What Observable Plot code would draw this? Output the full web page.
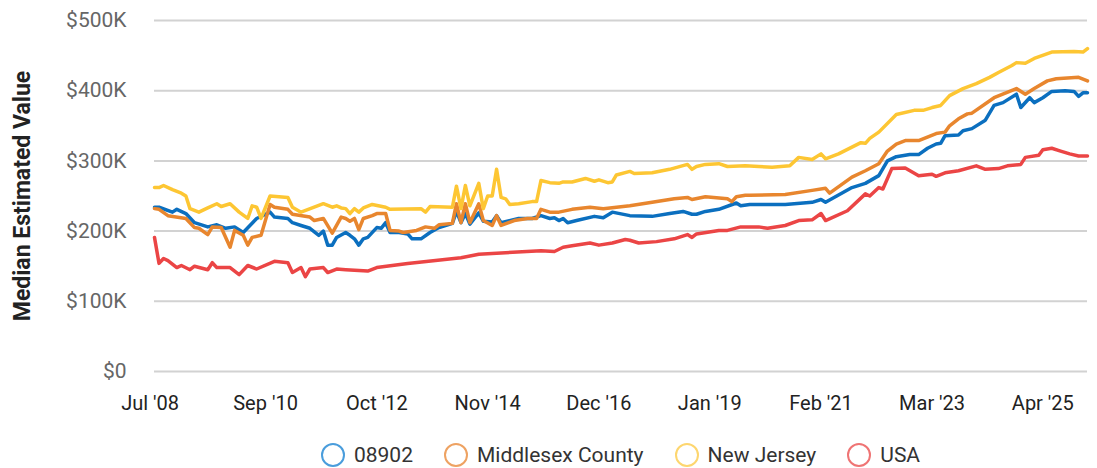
<!DOCTYPE html>
<html>
<head>
<meta charset="utf-8">
<script src="https://cdn.jsdelivr.net/npm/d3@7"></script>
<script src="https://cdn.jsdelivr.net/npm/@observablehq/plot@0.6"></script>
<style>
  html, body { margin: 0; padding: 0; background: #fff; }
  #wrap { position: relative; width: 1097px; height: 468px; font-family: Roboto, sans-serif; }
  #wrap svg { position: absolute; left: 0; top: 0; }
  g[aria-label="y-axis label"] { font-size: 23px; font-weight: bold; fill: #222; }
  g[aria-label="y-axis tick label"] { font-size: 21px; }
  .legend { position: absolute; left: 154px; width: 933px; top: 442px; height: 26px;
            display: flex; justify-content: center; align-items: center;
            font-size: 21px; color: #333; }
  .legend .item { display: flex; align-items: center; margin: 0 15.5px; }
  .legend .ring { width: 24px; height: 24px; border-radius: 50%; border: 2.5px solid; box-sizing: border-box; margin-right: 9px; }
</style>
</head>
<body>
<div id="wrap"></div>
<script>
// ---- data (values in $K) ----
const seriesNames = ["08902", "Middlesex County", "New Jersey", "USA"];
const seriesColors = ["#0b6fbf", "#e8862e", "#fdc633", "#eb4545"];
const legendColors = ["#4a9ddc", "#eea262", "#fdd66f", "#ef7474"];
const yTicks = [0, 100, 200, 300, 400, 500];
const xTickMonths = ["2008-07", "2010-09", "2012-10", "2014-11", "2016-12", "2019-01", "2021-02", "2023-03", "2025-04"];
const xTickLabels = ["Jul '08", "Sep '10", "Oct '12", "Nov '14", "Dec '16", "Jan '19", "Feb '21", "Mar '23", "Apr '25"];

const zip08902 = [["2008-07",234],["2008-08",234],["2008-11",227],["2008-12",231],["2009-02",225],["2009-04",212],["2009-07",206],["2009-09",209],["2009-11",204],["2010-01",206],["2010-03",198],["2010-06",218],["2010-09",227],["2010-10",220],["2011-01",218],["2011-02",212],["2011-04",208],["2011-06",204],["2011-08",194],["2011-09",200],["2011-10",180],["2011-11",180],["2011-12",191],["2012-02",198],["2012-03",194],["2012-04",189],["2012-05",180],["2012-06",189],["2012-07",191],["2012-09",205],["2012-10",204],["2012-11",212],["2012-12",198],["2013-02",198],["2013-04",196],["2013-05",189],["2013-07",189],["2013-09",198],["2013-11",205],["2014-01",209],["2014-02",211],["2014-03",228],["2014-04",212],["2014-05",225],["2014-06",210],["2014-08",226],["2014-09",214],["2014-11",213],["2014-12",222],["2015-01",212],["2015-05",218],["2015-08",218],["2015-10",222],["2015-12",218],["2016-01",219],["2016-02",215],["2016-03",218],["2016-04",212],["2016-06",215],["2016-10",221],["2016-12",219],["2017-02",227],["2017-06",222],["2017-11",221],["2018-03",225],["2018-06",228],["2018-08",224],["2018-09",224],["2018-11",228],["2019-02",231],["2019-06",240],["2019-07",236],["2019-09",238],["2020-05",238],["2020-11",241],["2021-01",245],["2021-02",241],["2021-08",262],["2021-11",268],["2022-02",279],["2022-04",300],["2022-06",306],["2022-09",309],["2022-11",309],["2023-01",318],["2023-03",324],["2023-04",325],["2023-05",336],["2023-08",337],["2023-09",343],["2023-11",346],["2024-02",358],["2024-04",379],["2024-06",383],["2024-09",395],["2024-10",376],["2024-12",390],["2025-01",383],["2025-03",390],["2025-05",399],["2025-08",400],["2025-10",399],["2025-11",392],["2025-12",397],["2026-01",397]];

const middlesex = [["2008-07",232],["2008-08",231],["2008-10",222],["2009-02",218],["2009-04",205],["2009-05",204],["2009-07",195],["2009-08",206],["2009-10",205],["2009-12",177],["2010-01",201],["2010-03",194],["2010-04",180],["2010-05",191],["2010-07",194],["2010-09",238],["2010-10",234],["2011-01",231],["2011-02",224],["2011-06",220],["2011-07",215],["2011-09",218],["2011-11",197],["2012-01",220],["2012-02",218],["2012-03",214],["2012-04",218],["2012-05",202],["2012-06",218],["2012-08",222],["2012-09",225],["2012-11",225],["2012-12",201],["2013-02",200],["2013-03",198],["2013-06",201],["2013-08",206],["2013-10",204],["2013-11",209],["2014-02",211],["2014-03",239],["2014-04",212],["2014-05",239],["2014-06",212],["2014-08",239],["2014-09",215],["2014-11",208],["2014-12",222],["2015-01",208],["2015-04",215],["2015-07",218],["2015-09",218],["2015-10",231],["2015-12",227],["2016-02",227],["2016-05",231],["2016-09",234],["2016-12",232],["2017-06",236],["2017-11",241],["2018-04",246],["2018-07",248],["2018-08",245],["2018-11",249],["2019-04",246],["2019-05",242],["2019-06",249],["2019-08",251],["2019-09",251],["2020-05",252],["2020-11",258],["2021-02",261],["2021-03",254],["2021-08",277],["2021-11",286],["2022-02",296],["2022-04",314],["2022-06",324],["2022-08",329],["2022-11",329],["2023-03",339],["2023-05",341],["2023-06",350],["2023-08",360],["2023-10",367],["2023-11",368],["2024-04",390],["2024-09",403],["2024-11",395],["2025-01",403],["2025-04",414],["2025-06",417],["2025-11",419],["2026-01",414]];

const newJersey = [["2008-07",262],["2008-08",262],["2008-09",265],["2008-11",259],["2009-01",254],["2009-02",250],["2009-03",232],["2009-05",227],["2009-07",233],["2009-09",239],["2009-10",235],["2009-12",239],["2010-02",227],["2010-04",218],["2010-05",236],["2010-06",234],["2010-07",218],["2010-09",250],["2011-01",248],["2011-02",234],["2011-04",227],["2011-09",239],["2011-11",234],["2011-12",236],["2012-01",233],["2012-02",232],["2012-03",225],["2012-04",232],["2012-05",227],["2012-06",233],["2012-08",238],["2012-11",234],["2012-12",231],["2013-07",232],["2013-08",227],["2013-09",235],["2014-02",234],["2014-03",264],["2014-04",232],["2014-05",265],["2014-06",236],["2014-08",268],["2014-09",232],["2014-10",250],["2014-11",250],["2014-12",288],["2015-01",248],["2015-02",246],["2015-03",238],["2015-05",239],["2015-08",242],["2015-09",242],["2015-10",272],["2015-12",269],["2016-02",268],["2016-03",270],["2016-05",270],["2016-08",275],["2016-10",271],["2016-11",273],["2017-01",269],["2017-02",270],["2017-03",280],["2017-06",285],["2017-07",282],["2017-11",283],["2018-03",288],["2018-07",295],["2018-08",288],["2018-09",292],["2018-11",295],["2019-02",296],["2019-04",292],["2019-08",293],["2019-11",292],["2020-02",291],["2020-06",293],["2020-08",305],["2020-11",302],["2021-01",310],["2021-02",303],["2021-05",310],["2021-10",326],["2021-11",325],["2021-12",332],["2022-02",341],["2022-06",366],["2022-10",372],["2022-12",372],["2023-02",376],["2023-04",379],["2023-06",393],["2023-09",403],["2023-12",410],["2024-03",419],["2024-05",426],["2024-08",436],["2024-09",440],["2024-11",439],["2025-01",446],["2025-05",455],["2025-10",456],["2025-12",455],["2026-01",460]];

const usa = [["2008-07",191],["2008-08",154],["2008-09",161],["2008-10",158],["2008-12",148],["2009-01",151],["2009-03",145],["2009-04",150],["2009-07",145],["2009-08",155],["2009-09",148],["2009-12",148],["2010-02",138],["2010-04",151],["2010-06",146],["2010-10",157],["2011-01",155],["2011-02",141],["2011-04",148],["2011-05",135],["2011-06",146],["2011-09",148],["2011-10",141],["2011-12",146],["2012-02",145],["2012-07",143],["2012-09",148],["2013-04",154],["2014-04",162],["2014-08",167],["2015-10",172],["2016-01",171],["2016-03",177],["2016-05",179],["2016-09",183],["2016-11",180],["2017-02",183],["2017-05",188],["2017-06",187],["2017-08",183],["2017-12",185],["2018-04",189],["2018-07",195],["2018-08",191],["2018-09",196],["2019-02",201],["2019-04",201],["2019-07",206],["2019-11",206],["2020-01",204],["2020-05",208],["2020-08",215],["2020-11",216],["2021-01",225],["2021-02",215],["2021-07",229],["2021-11",253],["2021-12",250],["2022-02",262],["2022-03",260],["2022-05",289],["2022-08",290],["2022-11",279],["2023-02",281],["2023-03",278],["2023-05",283],["2023-08",286],["2023-12",293],["2024-02",288],["2024-05",289],["2024-07",293],["2024-10",295],["2024-11",305],["2025-02",308],["2025-03",316],["2025-05",318],["2025-07",314],["2025-09",310],["2025-11",307],["2026-01",307]];

const seriesData = [zip08902, middlesex, newJersey, usa];

// ---- build ----
const parse = d3.utcParse("%Y-%m");
// each tick sits at the start of the month before the one it names (month-end stamps)
const xTicks = xTickMonths.map(m => d3.utcMonth.offset(parse(m), -1));
const labelByTime = new Map(xTicks.map((d, i) => [+d, xTickLabels[i]]));

const lineMarks = seriesData.map((s, i) =>
  Plot.line(s.map(([d, v]) => ({date: parse(d), value: v})), {
    x: "date", y: "value", stroke: seriesColors[i], strokeWidth: 3.5,
    strokeLinejoin: "round", strokeLinecap: "round"
  })
);

const chart = Plot.plot({
  width: 1097,
  height: 430,
  marginLeft: 154,
  marginRight: 10,
  marginTop: 20,
  marginBottom: 59,
  style: {fontFamily: "Roboto, sans-serif", fontSize: "20px", background: "transparent", overflow: "visible"},
  x: {type: "utc", domain: [parse("2008-07"), parse("2026-01")]},
  y: {domain: [0, 500]},
  marks: [
    Plot.gridY(yTicks, {stroke: "#d2d2d2", strokeOpacity: 1, strokeWidth: 2}),
    Plot.axisY(yTicks, {
      tickSize: 0, tickPadding: 28, fill: "#666",
      tickFormat: d => d === 0 ? "$0" : `$${d}K`,
      label: "Median Estimated Value", labelAnchor: "center", labelOffset: 141, labelArrow: "none"
    }),
    Plot.axisX(xTicks, {
      tickSize: 0, tickPadding: 24, fill: "#222",
      tickFormat: d => labelByTime.get(+d), label: null
    }),
    ...lineMarks
  ]
});

const wrap = document.getElementById("wrap");
wrap.appendChild(chart);

const legend = document.createElement("div");
legend.className = "legend";
seriesNames.forEach((name, i) => {
  const item = document.createElement("div");
  item.className = "item";
  const ring = document.createElement("span");
  ring.className = "ring";
  ring.style.borderColor = legendColors[i];
  const label = document.createElement("span");
  label.textContent = name;
  item.appendChild(ring);
  item.appendChild(label);
  legend.appendChild(item);
});
wrap.appendChild(legend);
</script>
</body>
</html>
